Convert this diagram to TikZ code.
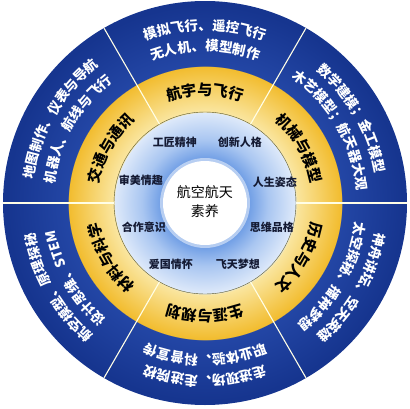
\documentclass[tikz,border=0pt]{standalone}
\usepackage{fontspec}
\usetikzlibrary{decorations.text}
\newfontfamily\cjk{Noto Sans CJK SC}

\definecolor{discblue}{HTML}{6A9AE4}
\definecolor{discmid}{HTML}{A9C6F1}
\definecolor{disclight}{HTML}{DFEAFA}
\definecolor{ringpale}{HTML}{FAE6A0}
\definecolor{ringgold}{HTML}{F2BC2E}
\definecolor{ringblue}{HTML}{2346A5}
\definecolor{rimblue}{HTML}{16358F}
\definecolor{wordink}{HTML}{141A33}

% one shading for the whole wheel (25bp = outer rim)
\pgfdeclareradialshading{wheel}{\pgfpoint{0bp}{0bp}}{%
  color(0bp)=(discblue);
  color(5.2bp)=(discblue);
  color(7.8bp)=(discmid);
  color(11.25bp)=(disclight);
  color(11.3bp)=(ringpale);
  color(16.9bp)=(ringgold);
  color(16.95bp)=(ringblue);
  color(24.5bp)=(rimblue);
  color(50bp)=(rimblue)}

\newcommand\outerfont{\cjk\bfseries\fontsize{13.5}{14}\selectfont\color{white}}
\newcommand\goldfont{\cjk\bfseries\fontsize{15}{16}\selectfont\color{black}}

\tikzset{
  virtue/.style={font=\cjk\bfseries\fontsize{11}{12}\selectfont, text=wordink, inner sep=0pt},
  divider/.style={draw=white!90!yellow, line width=1.1pt},
  ringlabel/.style={decorate, decoration={text along path, text align=center, text={#1}}},
}

\begin{document}
\begin{tikzpicture}[x=1pt,y=1pt]
    \useasboundingbox (-205pt,-205pt) rectangle (205pt,203pt);

    % Scheibe und Ringe
    \shade[shading=wheel] (0,0) circle[radius=202pt];
    \draw[olive!55!black, line width=0.4pt] (0,0) circle[radius=91pt];
    \foreach \a in {0,60,...,300}
        \draw[divider] (\a:91pt) -- (\a:202pt);

    % Mitte
    \fill[white, opacity=0.5] (0,0) circle[radius=45pt];
    \fill[white] (0,0) circle[radius=42pt];
    \node[font=\cjk\fontsize{14}{19}\selectfont, align=center] (core) at (0,1) {航空航天\\素养};

    % innere Begriffe
    \node[virtue] (craft) at (-30,61) {工匠精神};
    \node[virtue] (innovate) at (35,61) {创新人格};
    \node[virtue] (aesthetic) at (-64,23) {审美情趣};
    \node[virtue] (attitude) at (70,21) {人生姿态};
    \node[virtue] (teamwork) at (-61,-24) {合作意识};
    \node[virtue] (thinking) at (67,-24) {思维品格};
    \node[virtue] (patriot) at (-34,-61) {爱国情怀};
    \node[virtue] (dream) at (33,-61) {飞天梦想};

    % gelber Ring
    \path[ringlabel={|\goldfont|航宇与飞行}] (120:107.5pt) arc[start angle=120, end angle=60, radius=107.5pt];
    \path[ringlabel={|\goldfont|机械与模型}] (60:107.5pt) arc[start angle=60, end angle=0, radius=107.5pt];
    \path[ringlabel={|\goldfont|历史与人文}] (0:107.5pt) arc[start angle=0, end angle=-60, radius=107.5pt];
    \path[ringlabel={|\goldfont|生涯与规划}] (-60:107.5pt) arc[start angle=-60, end angle=-120, radius=107.5pt];
    \path[ringlabel={|\goldfont|材料与科学}] (-120:107.5pt) arc[start angle=-120, end angle=-180, radius=107.5pt];
    \path[ringlabel={|\goldfont|交通与通讯}] (180:107.5pt) arc[start angle=180, end angle=120, radius=107.5pt];

    % blauer Ring, aussen
    \path[ringlabel={|\outerfont|模拟飞行、遥控飞行}] (120:173pt) arc[start angle=120, end angle=60, radius=173pt];
    \path[ringlabel={|\outerfont|数学建模；金工模型}] (60:173pt) arc[start angle=60, end angle=0, radius=173pt];
    \path[ringlabel={|\outerfont|神舟讲坛、空天英雄}] (0:173pt) arc[start angle=0, end angle=-60, radius=173pt];
    \path[ringlabel={|\outerfont|走进现场、走进院校}] (-60:173pt) arc[start angle=-60, end angle=-120, radius=173pt];
    \path[ringlabel={|\outerfont|航空模型、原理探秘}] (-120:173pt) arc[start angle=-120, end angle=-180, radius=173pt];
    \path[ringlabel={|\outerfont|地图制作、仪表与导航}] (180:173pt) arc[start angle=180, end angle=120, radius=173pt];

    % blauer Ring, innen
    \path[ringlabel={|\outerfont|无人机、模型制作}] (120:152pt) arc[start angle=120, end angle=60, radius=152pt];
    \path[ringlabel={|\outerfont|木艺模型；航天器大观}] (60:152pt) arc[start angle=60, end angle=0, radius=152pt];
    \path[ringlabel={|\outerfont|太空探秘、播种梦想}] (0:152pt) arc[start angle=0, end angle=-60, radius=152pt];
    \path[ringlabel={|\outerfont|职业体验、科普宣传}] (-60:152pt) arc[start angle=-60, end angle=-120, radius=152pt];
    \path[ringlabel={|\outerfont|设计思维、STEM}] (-120:152pt) arc[start angle=-120, end angle=-180, radius=152pt];
    \path[ringlabel={|\outerfont|机器人、航线与飞行}] (180:152pt) arc[start angle=180, end angle=120, radius=152pt];
\end{tikzpicture}
\end{document}
